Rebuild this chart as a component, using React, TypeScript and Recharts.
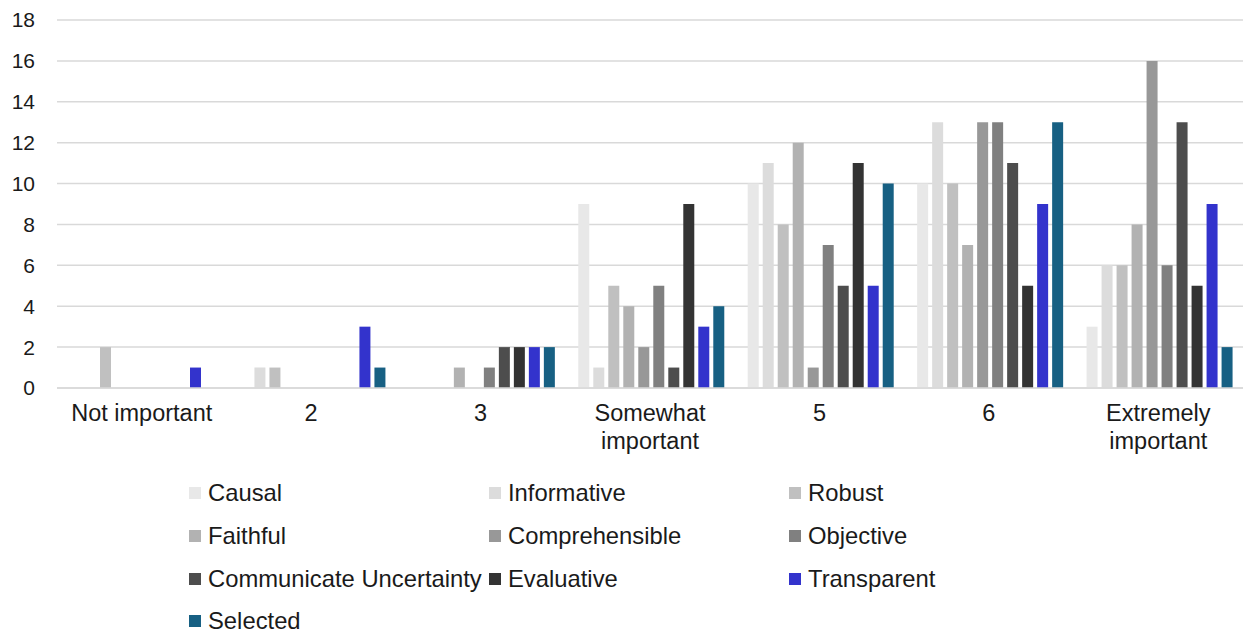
import React from "react";
import { BarChart, Bar, XAxis, YAxis, CartesianGrid, Legend } from "recharts";

const categories = ["Not important", "2", "3", "Somewhat important", "5", "6", "Extremely important"];

const causal = [0, 0, 0, 9, 10, 10, 3];
const informative = [0, 1, 0, 1, 11, 13, 6];
const robust = [2, 1, 0, 5, 8, 10, 6];
const faithful = [0, 0, 1, 4, 12, 7, 8];
const comprehensible = [0, 0, 0, 2, 1, 13, 16];
const objective = [0, 0, 1, 5, 7, 13, 6];
const communicateUncertainty = [0, 0, 2, 1, 5, 11, 13];
const evaluative = [0, 0, 2, 9, 11, 5, 5];
const transparent = [1, 3, 2, 3, 5, 9, 9];
const selected = [0, 1, 2, 4, 10, 13, 2];

const yTicks = [0, 2, 4, 6, 8, 10, 12, 14, 16, 18];

const series = [
  { key: "Causal", values: causal, color: "#e8e8e8" },
  { key: "Informative", values: informative, color: "#dcdcdc" },
  { key: "Robust", values: robust, color: "#c0c0c0" },
  { key: "Faithful", values: faithful, color: "#b2b2b2" },
  { key: "Comprehensible", values: comprehensible, color: "#989898" },
  { key: "Objective", values: objective, color: "#808080" },
  { key: "Communicate Uncertainty", values: communicateUncertainty, color: "#4d4d4d" },
  { key: "Evaluative", values: evaluative, color: "#333333" },
  { key: "Transparent", values: transparent, color: "#3333cc" },
  { key: "Selected", values: selected, color: "#176083" },
];

const data = categories.map((name, i) => {
  const row: Record<string, string | number> = { name };
  series.forEach((s) => {
    row[s.key] = s.values[i];
  });
  return row;
});

const FONT = '"Liberation Sans", Arial, sans-serif';
const TEXT = "#1a1a1a";

// wrap the long labels on two lines like the original
const CategoryTick = ({ x, y, payload }: any) => {
  const label: string = payload.value;
  const lines = label.length > 14 ? label.split(" ") : [label];
  return (
    <text x={x} y={y} textAnchor="middle" fill={TEXT} fontSize={23.5} fontFamily={FONT}>
      {lines.map((l, i) => (
        <tspan key={i} x={x} dy={i === 0 ? 27 : 28}>
          {l}
        </tspan>
      ))}
    </text>
  );
};

const LegendGrid = () => (
  <div
    style={{
      display: "grid",
      gridTemplateColumns: "repeat(3, 300px)",
      gridAutoRows: "42.7px",
      paddingLeft: 189,
      fontFamily: FONT,
      fontSize: 23.8,
      color: TEXT,
    }}
  >
    {series.map((s) => (
      <div key={s.key} style={{ display: "flex", alignItems: "center", whiteSpace: "nowrap" }}>
        <span style={{ display: "inline-block", width: 12, height: 12, background: s.color, marginRight: 7 }} />
        {s.key}
      </div>
    ))}
  </div>
);

export default function App() {
  return (
    <div style={{ position: "absolute", left: 0, top: 0, background: "#fff" }}>
      <BarChart
        width={1248}
        height={635}
        data={data}
        margin={{ top: 20, right: 5, left: 0, bottom: 0 }}
        barCategoryGap={13}
        barGap={4}
      >
        <CartesianGrid vertical={false} stroke="#d9d9d9" strokeWidth={1.5} />
        <XAxis
          dataKey="name"
          height={84}
          tickLine={false}
          axisLine={{ stroke: "#d9d9d9", strokeWidth: 1.5 }}
          tickMargin={0}
          tick={<CategoryTick />}
          interval={0}
        />
        <YAxis
          width={57}
          domain={[0, 18]}
          ticks={yTicks}
          tickLine={false}
          axisLine={false}
          tickMargin={16}
          tick={{ fill: TEXT, fontSize: 21, fontFamily: FONT }}
        />
        <Legend
          verticalAlign="bottom"
          content={<LegendGrid />}
          wrapperStyle={{ left: 0, width: 1248, height: 163 }}
        />
        {series.map((s) => (
          <Bar key={s.key} dataKey={s.key} fill={s.color} isAnimationActive={false} />
        ))}
      </BarChart>
    </div>
  );
}
